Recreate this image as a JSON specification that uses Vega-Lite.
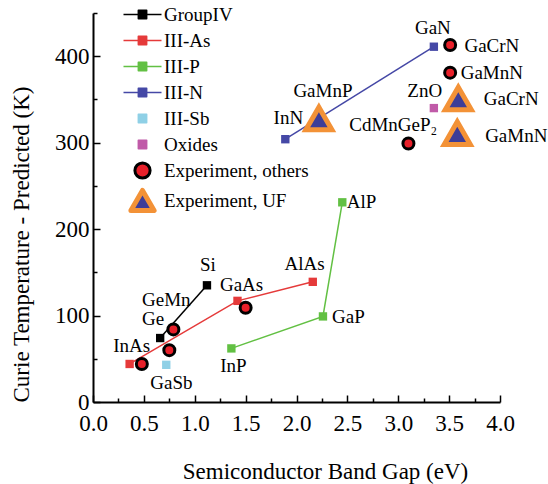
{
  "$schema": "https://vega.github.io/schema/vega-lite/v6.json",
  "width": 407,
  "height": 389,
  "autosize": "none",
  "padding": {"left": 93, "top": 13, "right": 48, "bottom": 82},
  "background": "white",
  "config": {
    "view": {"stroke": null},
    "font": "Liberation Serif",
    "axis": {
      "grid": false,
      "domainColor": "black",
      "domainWidth": 2,
      "tickColor": "black",
      "tickWidth": 1.5,
      "labelColor": "black",
      "titleColor": "black",
      "labelFont": "Liberation Serif",
      "titleFont": "Liberation Serif",
      "labelFontSize": 23,
      "titleFontSize": 23,
      "titleFontWeight": "normal"
    },
    "legend": {
      "orient": "none",
      "legendX": 40,
      "legendY": -8,
      "labelFont": "Liberation Serif",
      "labelFontSize": 19,
      "labelColor": "black",
      "rowPadding": 6,
      "labelOffset": 12,
      "padding": 0,
      "symbolSize": 1444,
      "symbolOpacity": 1
    }
  },
  "datasets": {
    "pts": [
      {"series": "GroupIV", "name": "Ge", "gap": 0.66, "tc": 74},
      {"series": "GroupIV", "name": "Si", "gap": 1.12, "tc": 135},
      {"series": "III-As", "name": "InAs", "gap": 0.36, "tc": 44},
      {"series": "III-As", "name": "GaAs", "gap": 1.42, "tc": 117},
      {"series": "III-As", "name": "AlAs", "gap": 2.16, "tc": 139},
      {"series": "III-P", "name": "InP", "gap": 1.36, "tc": 62},
      {"series": "III-P", "name": "GaP", "gap": 2.26, "tc": 99},
      {"series": "III-P", "name": "AlP", "gap": 2.45, "tc": 231},
      {"series": "III-N", "name": "InN", "gap": 1.89, "tc": 304},
      {"series": "III-N", "name": "GaN", "gap": 3.35, "tc": 411},
      {"series": "III-Sb", "name": "GaSb", "gap": 0.72, "tc": 43},
      {"series": "Oxides", "name": "ZnO", "gap": 3.35, "tc": 340}
    ],
    "exp": [
      {"kind": "others", "name": "InMnAs", "gap": 0.48, "tc": 44},
      {"kind": "others", "name": "GaMnSb", "gap": 0.75, "tc": 60},
      {"kind": "others", "name": "GeMn", "gap": 0.79, "tc": 84},
      {"kind": "others", "name": "GaMnAs", "gap": 1.5, "tc": 109},
      {"kind": "others", "name": "CdMnGeP2", "gap": 3.1, "tc": 299},
      {"kind": "others", "name": "GaCrN", "gap": 3.51, "tc": 413},
      {"kind": "others", "name": "GaMnN", "gap": 3.51, "tc": 381},
      {"kind": "UF", "name": "GaMnP", "gap": 2.22, "tc": 328},
      {"kind": "UF", "name": "GaCrN", "gap": 3.59, "tc": 351},
      {"kind": "UF", "name": "GaMnN", "gap": 3.58, "tc": 311}
    ],
    "labels": [
      {"label": "Si", "gap": 1.13, "tc": 158},
      {"label": "GaAs", "gap": 1.46, "tc": 135},
      {"label": "AlAs", "gap": 2.08, "tc": 160},
      {"label": "GeMn", "gap": 0.72, "tc": 118},
      {"label": "Ge", "gap": 0.59, "tc": 96},
      {"label": "InAs", "gap": 0.38, "tc": 65},
      {"label": "GaSb", "gap": 0.77, "tc": 22},
      {"label": "InP", "gap": 1.38, "tc": 42},
      {"label": "GaP", "gap": 2.51, "tc": 98},
      {"label": "AlP", "gap": 2.64, "tc": 231},
      {"label": "InN", "gap": 1.92, "tc": 329},
      {"label": "GaMnP", "gap": 2.26, "tc": 360},
      {"label": "GaN", "gap": 3.34, "tc": 433},
      {"label": "GaCrN", "gap": 3.92, "tc": 412},
      {"label": "GaMnN", "gap": 3.92, "tc": 381},
      {"label": "ZnO", "gap": 3.26, "tc": 360},
      {"label": "GaCrN", "gap": 4.11, "tc": 351},
      {"label": "GaMnN", "gap": 4.16, "tc": 308},
      {"label": "CdMnGeP₂", "gap": 2.95, "tc": 320}
    ],
    "cats": [
      {"series": "GroupIV"},
      {"series": "III-As"},
      {"series": "III-P"},
      {"series": "III-N"},
      {"series": "III-Sb"},
      {"series": "Oxides"},
      {"series": "Experiment, others"},
      {"series": "Experiment, UF"}
    ]
  },
  "encoding": {
    "x": {
      "field": "gap",
      "type": "quantitative",
      "scale": {"domain": [0, 4], "nice": false, "zero": false},
      "axis": {
        "values": [0, 0.25, 0.5, 0.75, 1, 1.25, 1.5, 1.75, 2, 2.25, 2.5, 2.75, 3, 3.25, 3.5, 3.75, 4],
        "labelExpr": "abs(datum.value*2 - round(datum.value*2)) < 0.01 ? format(datum.value, '.1f') : ''",
        "tickSize": {"condition": {"test": "abs(datum.value*2 - round(datum.value*2)) < 0.01", "value": -7}, "value": -4},
        "labelPadding": 17,
        "labelFlush": false,
        "labelOverlap": false,
        "title": "Semiconductor Band Gap (eV)",
        "titleX": 232,
        "titleY": 69,
        "titleBaseline": "middle",
        "titleAlign": "center",
        "titleAnchor": null
      }
    },
    "y": {
      "field": "tc",
      "type": "quantitative",
      "scale": {"domain": [0, 450], "nice": false, "zero": false},
      "axis": {
        "values": [0, 50, 100, 150, 200, 250, 300, 350, 400, 450],
        "labelExpr": "datum.value % 100 == 0 ? datum.value : ''",
        "tickSize": {"condition": {"test": "datum.value % 100 == 0", "value": -7}, "value": -4},
        "labelPadding": 11,
        "labelFlush": false,
        "labelOverlap": false,
        "title": "Curie Temperature - Predicted (K)",
        "titleX": -72,
        "titleY": 231,
        "titleBaseline": "middle",
        "titleAlign": "center",
        "titleAngle": -90,
        "titleAnchor": null
      }
    }
  },
  "layer": [
    {
      "data": {"name": "pts"},
      "mark": {"type": "line", "strokeWidth": 1.5, "opacity": 1},
      "encoding": {
        "color": {
          "field": "series",
          "type": "nominal",
          "scale": {
            "domain": ["GroupIV", "III-As", "III-P", "III-N", "III-Sb", "Oxides"],
            "range": ["#000000", "#e53a3a", "#62c043", "#4548a6", "#8fd0e6", "#c05aa8"]
          },
          "legend": null
        }
      }
    },
    {
      "data": {"name": "pts"},
      "mark": {"type": "square", "size": 70, "opacity": 1},
      "encoding": {
        "color": {
          "field": "series",
          "type": "nominal",
          "scale": {
            "domain": ["GroupIV", "III-As", "III-P", "III-N", "III-Sb", "Oxides"],
            "range": ["#000000", "#e53a3a", "#62c043", "#4548a6", "#8fd0e6", "#c05aa8"]
          },
          "legend": null
        }
      }
    },
    {
      "data": {"name": "exp"},
      "transform": [{"filter": "datum.kind == 'others'"}],
      "mark": {"type": "point", "shape": "circle", "filled": true, "size": 121, "fill": "#e8202a", "stroke": "#000000", "strokeWidth": 3, "opacity": 1}
    },
    {
      "data": {"name": "exp"},
      "transform": [{"filter": "datum.kind == 'UF'"}],
      "mark": {"type": "point", "shape": "triangle-up", "filled": true, "size": 680, "fill": "#3d3d98", "stroke": "#f39237", "strokeWidth": 5, "opacity": 1}
    },
    {
      "data": {"name": "labels"},
      "mark": {"type": "text", "font": "Liberation Serif", "fontSize": 19, "align": "center", "baseline": "middle", "color": "black"},
      "encoding": {"text": {"field": "label", "type": "nominal"}}
    },
    {
      "data": {"name": "cats"},
      "transform": [{"filter": "false"}],
      "mark": {"type": "point", "filled": true, "opacity": 1},
      "encoding": {
        "x": {"datum": 0},
        "y": {"datum": 0},
        "fill": {
          "field": "series",
          "type": "nominal",
          "scale": {
            "domain": ["GroupIV", "III-As", "III-P", "III-N", "III-Sb", "Oxides", "Experiment, others", "Experiment, UF"],
            "range": ["#000000", "#e53a3a", "#62c043", "#4548a6", "#8fd0e6", "#c05aa8", "#e8202a", "#3d3d98"]
          },
          "legend": {
            "title": null,
            "encode": {
              "symbols": {
                "update": {
                  "strokeWidth": {"signal": "datum.value === 'Experiment, UF' ? 5 : datum.value === 'Experiment, others' ? 3 : 1.5"},
                  "strokeJoin": {"value": "round"},
                  "opacity": {"value": 1}
                }
              }
            }
          }
        },
        "stroke": {
          "field": "series",
          "type": "nominal",
          "scale": {
            "domain": ["GroupIV", "III-As", "III-P", "III-N", "III-Sb", "Oxides", "Experiment, others", "Experiment, UF"],
            "range": ["#000000", "#e53a3a", "#62c043", "#4548a6", "#8fd0e6", "#c05aa8", "#000000", "#f39237"]
          },
          "legend": {"title": null}
        },
        "shape": {
          "field": "series",
          "type": "nominal",
          "scale": {
            "domain": ["GroupIV", "III-As", "III-P", "III-N", "III-Sb", "Oxides", "Experiment, others", "Experiment, UF"],
            "range": [
              "M-1,0L1,0M-0.22,-0.22L0.22,-0.22L0.22,0.22L-0.22,0.22Z",
              "M-1,0L1,0M-0.22,-0.22L0.22,-0.22L0.22,0.22L-0.22,0.22Z",
              "M-1,0L1,0M-0.22,-0.22L0.22,-0.22L0.22,0.22L-0.22,0.22Z",
              "M-1,0L1,0M-0.22,-0.22L0.22,-0.22L0.22,0.22L-0.22,0.22Z",
              "M-0.22,-0.22L0.22,-0.22L0.22,0.22L-0.22,0.22Z",
              "M-0.22,-0.22L0.22,-0.22L0.22,0.22L-0.22,0.22Z",
              "M-0.4,0A0.4,0.4,0,1,0,0.4,0A0.4,0.4,0,1,0,-0.4,0Z",
              "M0,-0.53L0.61,0.53L-0.61,0.53Z"
            ]
          },
          "legend": {"title": null}
        }
      }
    }
  ]
}
